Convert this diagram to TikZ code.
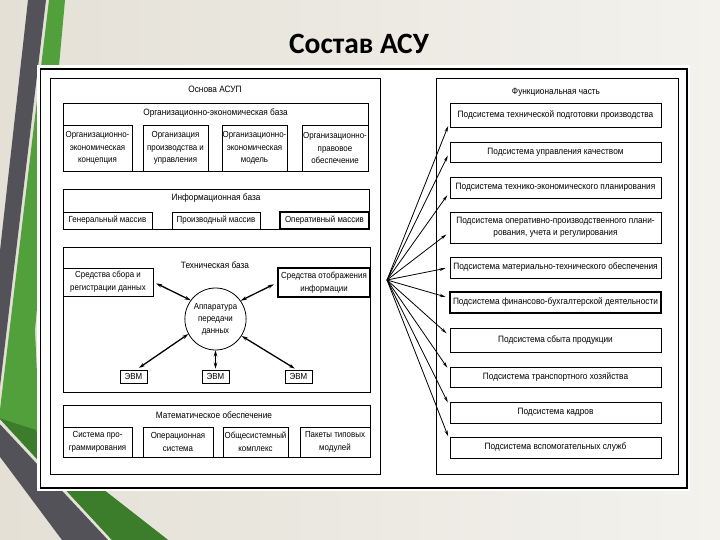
\documentclass[tikz,border=0pt]{standalone}
\usepackage{fontspec}
\setmainfont{Liberation Sans}
\newfontfamily\diag[FakeStretch=0.9]{Liberation Sans}
\newfontfamily\titlefont{Carlito}
\usetikzlibrary{arrows.meta,shapes.geometric}
\definecolor{stripedark}{RGB}{82,82,88}
\definecolor{stripegreen}{RGB}{82,160,60}
\definecolor{stripegreendk}{RGB}{60,125,44}
\begin{document}
\begin{tikzpicture}[x=1pt,y=-1pt,
  bx/.style={draw,line width=0.8pt,inner sep=0.5pt,align=center,anchor=center,font=\diag\fontsize{9.2}{12.5}\selectfont},
  sbx/.style={bx,font=\diag\fontsize{8.8}{12.8}\selectfont},
  txt/.style={inner sep=0pt,align=center,font=\diag\fontsize{9.2}{12}\selectfont},
  dbl/.style={{Stealth[length=6pt,width=3.6pt]}-{Stealth[length=6pt,width=3.6pt]},line width=1.3pt},
  fanarr/.style={-{Stealth[length=6pt,width=3pt]},line width=0.8pt,shorten >=4pt}]
\useasboundingbox (0,0) rectangle (720,540);
% background
\shade[left color={rgb,255:red,228;green,224;blue,214},right color={rgb,255:red,243;green,242;blue,237}] (0,0) rectangle (720,540);
% decorative ribbons
\fill[stripedark] (28,0) -- (46,0) -- (-4,420) -- (108,540) -- (62,540) -- (-20,430) -- cycle;
\fill[stripegreen] (49,0) -- (65,0) -- (35,330) -- (40,440) -- (168,540) -- (112,540) -- (-1,418) -- cycle;
\fill[stripegreendk] (-1,418) -- (36,430) -- (40,440) -- (168,540) -- (112,540) -- cycle;
% frame
\fill[white] (37,65) rectangle (690,491);
\draw[line width=1.5pt] (40.5,69) rectangle (687,488);
% title
\node[inner sep=0pt,font=\titlefont\bfseries\fontsize{29.5}{31}\selectfont] (title) at (359,44) {Состав АСУ};
% panels
\node[draw,line width=1pt,minimum width=330pt,minimum height=395pt] (left) at (215,276.5) {};
\node[draw,line width=1pt,minimum width=242pt,minimum height=395pt] (right) at (557,276.5) {};
\node[txt] (osn) at (215,89) {Основа АСУП};
% organizational-economic base
\node[bx,minimum width=305pt,minimum height=68pt] (org) at (215.5,137) {};
\node[txt] (orgt) at (215.5,113) {Организационно-экономическая база};
\node[sbx,minimum width=69pt,minimum height=46pt] (o1) at (97.5,148) {Организационно-\\экономическая\\концепция};
\node[sbx,minimum width=65pt,minimum height=46pt] (o2) at (175.5,148) {Организация\\производства и\\управления};
\node[sbx,minimum width=65pt,minimum height=46pt] (o3) at (254.5,148) {Организационно-\\экономическая\\модель};
\node[sbx,minimum width=66pt,minimum height=46pt] (o4) at (335,148) {Организационно-\\правовое\\обеспечение};
% information base
\node[bx,minimum width=306pt,minimum height=40pt] (inf) at (216,209) {};
\node[txt] (inft) at (216,198) {Информационная база};
\node[sbx,minimum width=89pt,minimum height=17pt] (i1) at (107.5,220.5) {Генеральный массив};
\node[sbx,minimum width=88pt,minimum height=17pt] (i2) at (216,220.5) {Производный массив};
\node[sbx,line width=1.2pt,minimum width=89pt,minimum height=17pt] (i3) at (324.5,220.5) {Оперативный массив};
% technical base
\node[bx,minimum width=307pt,minimum height=145pt] (tech) at (216.5,319.5) {};
\node[txt] (techt) at (215,265) {Техническая база};
\node[sbx,minimum width=90pt,minimum height=28pt] (t1) at (108,282) {Средства сбора и\\регистрации данных};
\node[sbx,line width=1.1pt,minimum width=92pt,minimum height=29pt] (t2) at (324,282.5) {Средства отображения\\информации};
\node[draw,ellipse,line width=0.8pt,minimum width=58pt,minimum height=62pt,inner sep=0pt,align=center,font=\diag\fontsize{8.8}{12}\selectfont] (ell) at (215.5,319) {Аппаратура\\передачи\\данных};
\node[sbx,minimum width=27pt,minimum height=13pt] (e1) at (133.5,376.5) {ЭВМ};
\node[sbx,minimum width=27pt,minimum height=13pt] (e2) at (215.5,376.5) {ЭВМ};
\node[sbx,minimum width=27pt,minimum height=13pt] (e3) at (298.5,376.5) {ЭВМ};
\draw[dbl,shorten <=3pt] (t1.east) -- (ell.143);
\draw[dbl,shorten <=4pt] (t2.west) -- (ell.36);
\draw[dbl,shorten <=3pt] ([xshift=3pt]e1.north) -- (ell.209);
\draw[dbl,shorten <=1pt] (e2.north) -- (ell.south);
\draw[dbl,shorten <=2pt] ([xshift=-2pt]e3.north) -- (ell.327);
% math support
\node[bx,minimum width=307pt,minimum height=52pt] (math) at (216.5,431) {};
\node[txt] (matht) at (214,415) {Математическое обеспечение};
\node[sbx,minimum width=69pt,minimum height=30pt] (m1) at (97.5,442) {Система про-\\граммирования};
\node[sbx,minimum width=70pt,minimum height=30pt] (m2) at (178,442) {Операционная\\система};
\node[sbx,minimum width=65pt,minimum height=30pt] (m3) at (255.5,442) {Общесистемный\\комплекс};
\node[sbx,minimum width=70pt,minimum height=30pt] (m4) at (335,442) {Пакеты типовых\\модулей};
% functional part
\node[txt] (funct) at (556,92) {Функциональная часть};
\node[bx,minimum width=211pt,minimum height=24pt] (f1) at (555.5,115) {Подсистема технической подготовки производства};
\node[bx,minimum width=211pt,minimum height=20pt] (f2) at (555.5,152) {Подсистема управления качеством};
\node[bx,minimum width=211pt,minimum height=21pt] (f3) at (555.5,187.5) {Подсистема технико-экономического планирования};
\node[bx,minimum width=211pt,minimum height=31pt] (f4) at (555.5,227.5) {Подсистема оперативно-производственного плани-\\рования, учета и регулирования};
\node[bx,minimum width=211pt,minimum height=21pt] (f5) at (555.5,267.5) {Подсистема материально-технического обеспечения};
\node[bx,line width=1.2pt,minimum width=211pt,minimum height=21pt] (f6) at (555.5,302.5) {Подсистема финансово-бухгалтерской деятельности};
\node[bx,minimum width=211pt,minimum height=24pt] (f7) at (555.5,340) {Подсистема сбыта продукции};
\node[bx,minimum width=211pt,minimum height=20pt] (f8) at (555.5,377) {Подсистема транспортного хозяйства};
\node[bx,minimum width=211pt,minimum height=21pt] (f9) at (555.5,412.5) {Подсистема кадров};
\node[bx,minimum width=211pt,minimum height=21pt] (f10) at (555.5,447.5) {Подсистема вспомогательных служб};
\coordinate (fan) at (387,280);
\draw[fanarr] (fan) -- ([yshift=5pt]f1.south west);
\draw[fanarr] (fan) -- (f2.west);
\draw[fanarr] (fan) -- ([yshift=-4.5pt]f3.west);
\draw[fanarr] (fan) -- ([yshift=-4.5pt]f4.west);
\draw[fanarr] (fan) -- (f5.west);
\draw[fanarr] (fan) -- ([yshift=4.5pt]f6.west);
\draw[fanarr] (fan) -- ([yshift=4pt]f7.west);
\draw[fanarr] (fan) -- ([yshift=6pt]f8.west);
\draw[fanarr] (fan) -- ([yshift=6.5pt]f9.west);
\draw[fanarr] (fan) -- ([yshift=7.5pt]f10.west);
\end{tikzpicture}
\end{document}
